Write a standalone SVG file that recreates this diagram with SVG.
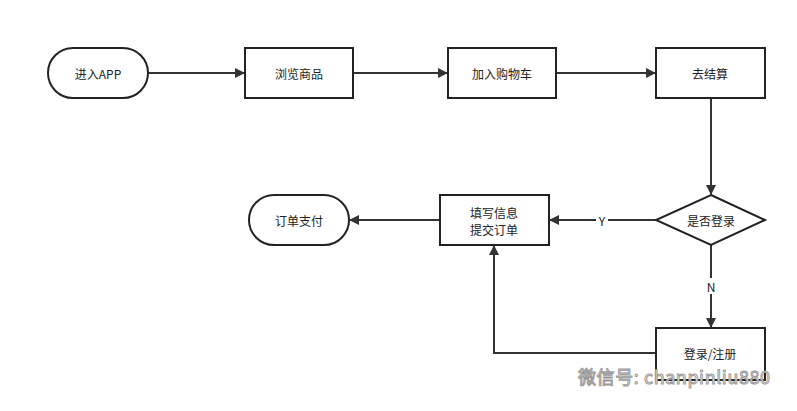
<svg xmlns="http://www.w3.org/2000/svg" width="797" height="411" viewBox="0 0 797 411">
<style>
.n{fill:#fff;stroke:#222;stroke-width:2}
.t{font-family:"Noto Sans CJK SC","Liberation Sans",sans-serif;font-size:12px;fill:#222;text-anchor:middle;dominant-baseline:central}
.c{fill:none;stroke:#333;stroke-width:2}
</style>
<defs><marker id="a" markerWidth="10" markerHeight="10" refX="9" refY="5" orient="auto" markerUnits="userSpaceOnUse"><path d="M0,0 L10,5 L0,10 Z" fill="#333"/></marker></defs>
<rect width="797" height="411" fill="#fff"/>
<g id="connectors">
<path class="c" d="M148,73 H244" marker-end="url(#a)"/>
<path class="c" d="M353,73 H447" marker-end="url(#a)"/>
<path class="c" d="M556,73 H655" marker-end="url(#a)"/>
<path class="c" d="M711,98 V194" marker-end="url(#a)"/>
<path class="c" d="M656,220 H550" marker-end="url(#a)"/>
<rect x="596" y="212" width="12" height="16" fill="#fff"/>
<text class="t" x="602" y="220">Y</text>
<path class="c" d="M440,220 H350" marker-end="url(#a)"/>
<path class="c" d="M711,245 V327" marker-end="url(#a)"/>
<rect x="704" y="278" width="14" height="16" fill="#fff"/>
<text class="t" x="711" y="286">N</text>
<path class="c" d="M656,353 H494 V246" marker-end="url(#a)"/>
</g>
<g id="n1"><rect class="n" x="48" y="48" width="100" height="50" rx="25"/><text class="t" x="98" y="73">进入APP</text></g>
<g id="n2"><rect class="n" x="245" y="48" width="108" height="50"/><text class="t" x="299" y="73">浏览商品</text></g>
<g id="n3"><rect class="n" x="448" y="48" width="108" height="50"/><text class="t" x="502" y="73">加入购物车</text></g>
<g id="n4"><rect class="n" x="656" y="48" width="109" height="50"/><text class="t" x="710" y="73">去结算</text></g>
<g id="n5"><path class="n" d="M711,195 L765,220 L711,245 L656,220 Z"/><text class="t" x="711" y="220">是否登录</text></g>
<g id="n6"><rect class="n" x="440" y="195" width="109" height="50"/><text class="t" x="494" y="212">填写信息</text><text class="t" x="494" y="229">提交订单</text></g>
<g id="n7"><rect class="n" x="249" y="195" width="100" height="50" rx="25"/><text class="t" x="299" y="220">订单支付</text></g>
<g id="n8"><rect class="n" x="656" y="328" width="109" height="52"/><text class="t" x="710" y="353">登录/注册</text></g>
<text x="578" y="384" font-family="Noto Sans CJK SC,Liberation Sans,sans-serif" font-size="18" fill="#fff" stroke="#999" stroke-width="1" textLength="192">微信号: chanpinliu880</text>
</svg>
